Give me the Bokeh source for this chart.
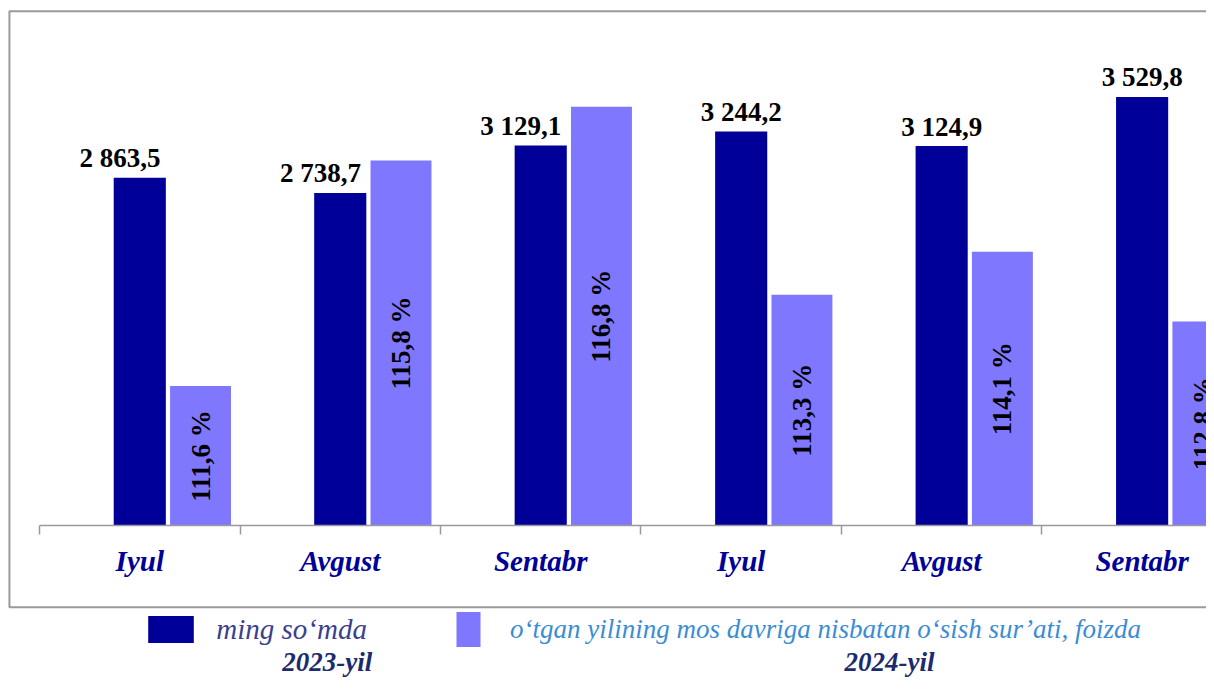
import numpy as np
from bokeh.plotting import figure
from bokeh.models import (ColumnDataSource, Range1d, LinearAxis, FixedTicker,
                          BoxAnnotation, Legend, LegendItem, Label)
from bokeh.core.properties import value
from bokeh.embed import file_html
from bokeh.resources import INLINE

# ---------------- data ----------------
months = ["Iyul", "Avgust", "Sentabr", "Iyul", "Avgust", "Sentabr"]
years = ["2023", "2023", "2023", "2024", "2024", "2024"]
amount = [2863.5, 2738.7, 3129.1, 3244.2, 3124.9, 3529.8]          # ming so'mda
growth = [111.6, 115.8, 116.8, 113.3, 114.1, 112.8]                # foizda
amount_labels = ["2 863,5", "2 738,7", "3 129,1", "3 244,2", "3 124,9", "3 529,8"]
growth_labels = ["111,6 %", "115,8 %", "116,8 %", "113,3 %", "114,1 %", "112,8 %"]
legend_labels = ["ming so\u2018mda",
                 "o\u2018tgan yilining mos davriga nisbatan o\u2018sish sur\u2019ati, foizda"]
year_labels = ["2023-yil", "2024-yil"]

# ---------------- layout (design drawn on a 1214x693 sheet, scaled to canvas) ----------------
W, H = 1206, 677
REF_W, REF_H = 1214, 693
SX, SY = W / REF_W, H / REF_H

CAT_W = 201.8           # sheet px per category
X0 = 39.3               # sheet x of first category boundary
BASE = 537.7            # sheet y of baseline
VAL_PER_PX = 8.04
PCT_BASE = 109.0
PCT_PX = 55.0

x_start = -X0 / CAT_W
x_end = x_start + REF_W / CAT_W
y_end = BASE * VAL_PER_PX
y_start = -(REF_H - BASE) * VAL_PER_PX
p_end = PCT_BASE + BASE / PCT_PX
p_start = PCT_BASE - (REF_H - BASE) / PCT_PX

def cx(v):  # sheet x -> canvas screen x
    return v * SX

def cy(v):  # sheet y (from top) -> screen y (from bottom)
    return H - v * SY

NAVY = "#000099"
PURPLE = "#8077FF"
GREY = "#9a9a9a"
SERIF = "Liberation Serif"

pos = np.arange(len(months)) + 0.5
src = ColumnDataSource(dict(
    x=pos,
    xp=pos + 0.303,
    amount=amount,
    growth=growth,
    amount_label=amount_labels,
    growth_label=growth_labels,
    pct_mid=[(PCT_BASE + g) / 2 for g in growth],
    dx=[-20 * SX if y == "2023" else 0 for y in years],
))

p = figure(width=W, height=H, output_backend="svg", toolbar_location=None,
           x_axis_location=None, y_axis_location=None,
           x_range=Range1d(x_start, x_end), y_range=Range1d(y_start, y_end),
           min_border=0, min_border_left=0, min_border_right=0,
           min_border_top=0, min_border_bottom=0,
           outline_line_color=None, background_fill_color="white",
           border_fill_color="white")
p.grid.visible = False
p.extra_y_ranges = {"pct": Range1d(p_start, p_end)}

r1 = p.vbar(x="x", top="amount", bottom=0, width=0.26, source=src,
            fill_color=NAVY, line_color=None)
r2 = p.vbar(x="xp", top="growth", bottom=PCT_BASE, width=0.304, source=src,
            y_range_name="pct", fill_color=PURPLE, line_color=None)

p.text(x="x", y="amount", text="amount_label", source=src,
       x_offset="dx", y_offset=-20 * SY, text_align="center", text_baseline="alphabetic",
       text_font=value(SERIF), text_font_style="bold", text_font_size="27px",
       text_color="black")
p.text(x="xp", y="pct_mid", text="growth_label", source=src, y_range_name="pct",
       angle=np.pi / 2, text_align="center", text_baseline="middle",
       text_font=value(SERIF), text_font_style="bold", text_font_size="27px",
       text_color="black")

# axis baseline with boundary ticks
n = len(months)
ax = LinearAxis(fixed_location=0, bounds=(0, n),
                ticker=FixedTicker(ticks=list(range(n + 1))),
                major_label_overrides={i: "" for i in range(n + 1)},
                axis_line_color=GREY, axis_line_width=1.5,
                major_tick_line_color=GREY, major_tick_line_width=1.5,
                major_tick_out=9, major_tick_in=0,
                minor_tick_line_color=None)
p.add_layout(ax, "below")

# month labels at category centres
lab = LinearAxis(fixed_location=0,
                 ticker=FixedTicker(ticks=[float(v) for v in pos]),
                 major_label_overrides={float(v): m for v, m in zip(pos, months)},
                 axis_line_color=None, major_tick_line_color=None,
                 minor_tick_line_color=None, major_tick_out=0, major_tick_in=0,
                 major_label_standoff=19,
                 major_label_text_font=SERIF, major_label_text_font_style="bold italic",
                 major_label_text_font_size="29px", major_label_text_color=NAVY)
p.add_layout(lab, "below")

# outer grey border
p.add_layout(BoxAnnotation(left=cx(9), right=2000, top=cy(11), bottom=cy(621),
                           left_units="screen", right_units="screen",
                           top_units="screen", bottom_units="screen",
                           fill_color=None, fill_alpha=0,
                           line_color=GREY, line_alpha=1.0, line_width=2))

# legends (swatch area includes the 10% inset bokeh draws around area glyphs)
leg1 = Legend(items=[LegendItem(label=legend_labels[0], renderers=[r1])],
              location=(cx(149) - 5.7, cy(658) - 3.4),
              glyph_width=57, glyph_height=34,
              label_standoff=17, padding=0, margin=0, spacing=0,
              border_line_color=None, background_fill_alpha=0,
              label_text_font=SERIF, label_text_font_style="italic",
              label_text_font_size="29px", label_text_color="#3B3F8F")
leg2 = Legend(items=[LegendItem(label=legend_labels[1], renderers=[r2])],
              location=(cx(459) - 3.0, cy(622) + 4.4 - 52),
              glyph_width=30, glyph_height=44, label_height=52,
              label_standoff=27, padding=0, margin=0, spacing=0,
              border_line_color=None, background_fill_alpha=0,
              label_text_font=SERIF, label_text_font_style="italic",
              label_text_font_size="27px", label_text_color="#3A8DD4")
p.add_layout(leg1)
p.add_layout(leg2)

for txt, x in zip(year_labels, [329, 895]):
    p.add_layout(Label(x=cx(x), y=cy(662), x_units="screen", y_units="screen",
                       text=txt, text_align="center", text_baseline="top",
                       text_font=SERIF, text_font_style="bold italic",
                       text_font_size="27px", text_color="#1C2B6E"))

open("out.html", "w").write(file_html(p, INLINE))
